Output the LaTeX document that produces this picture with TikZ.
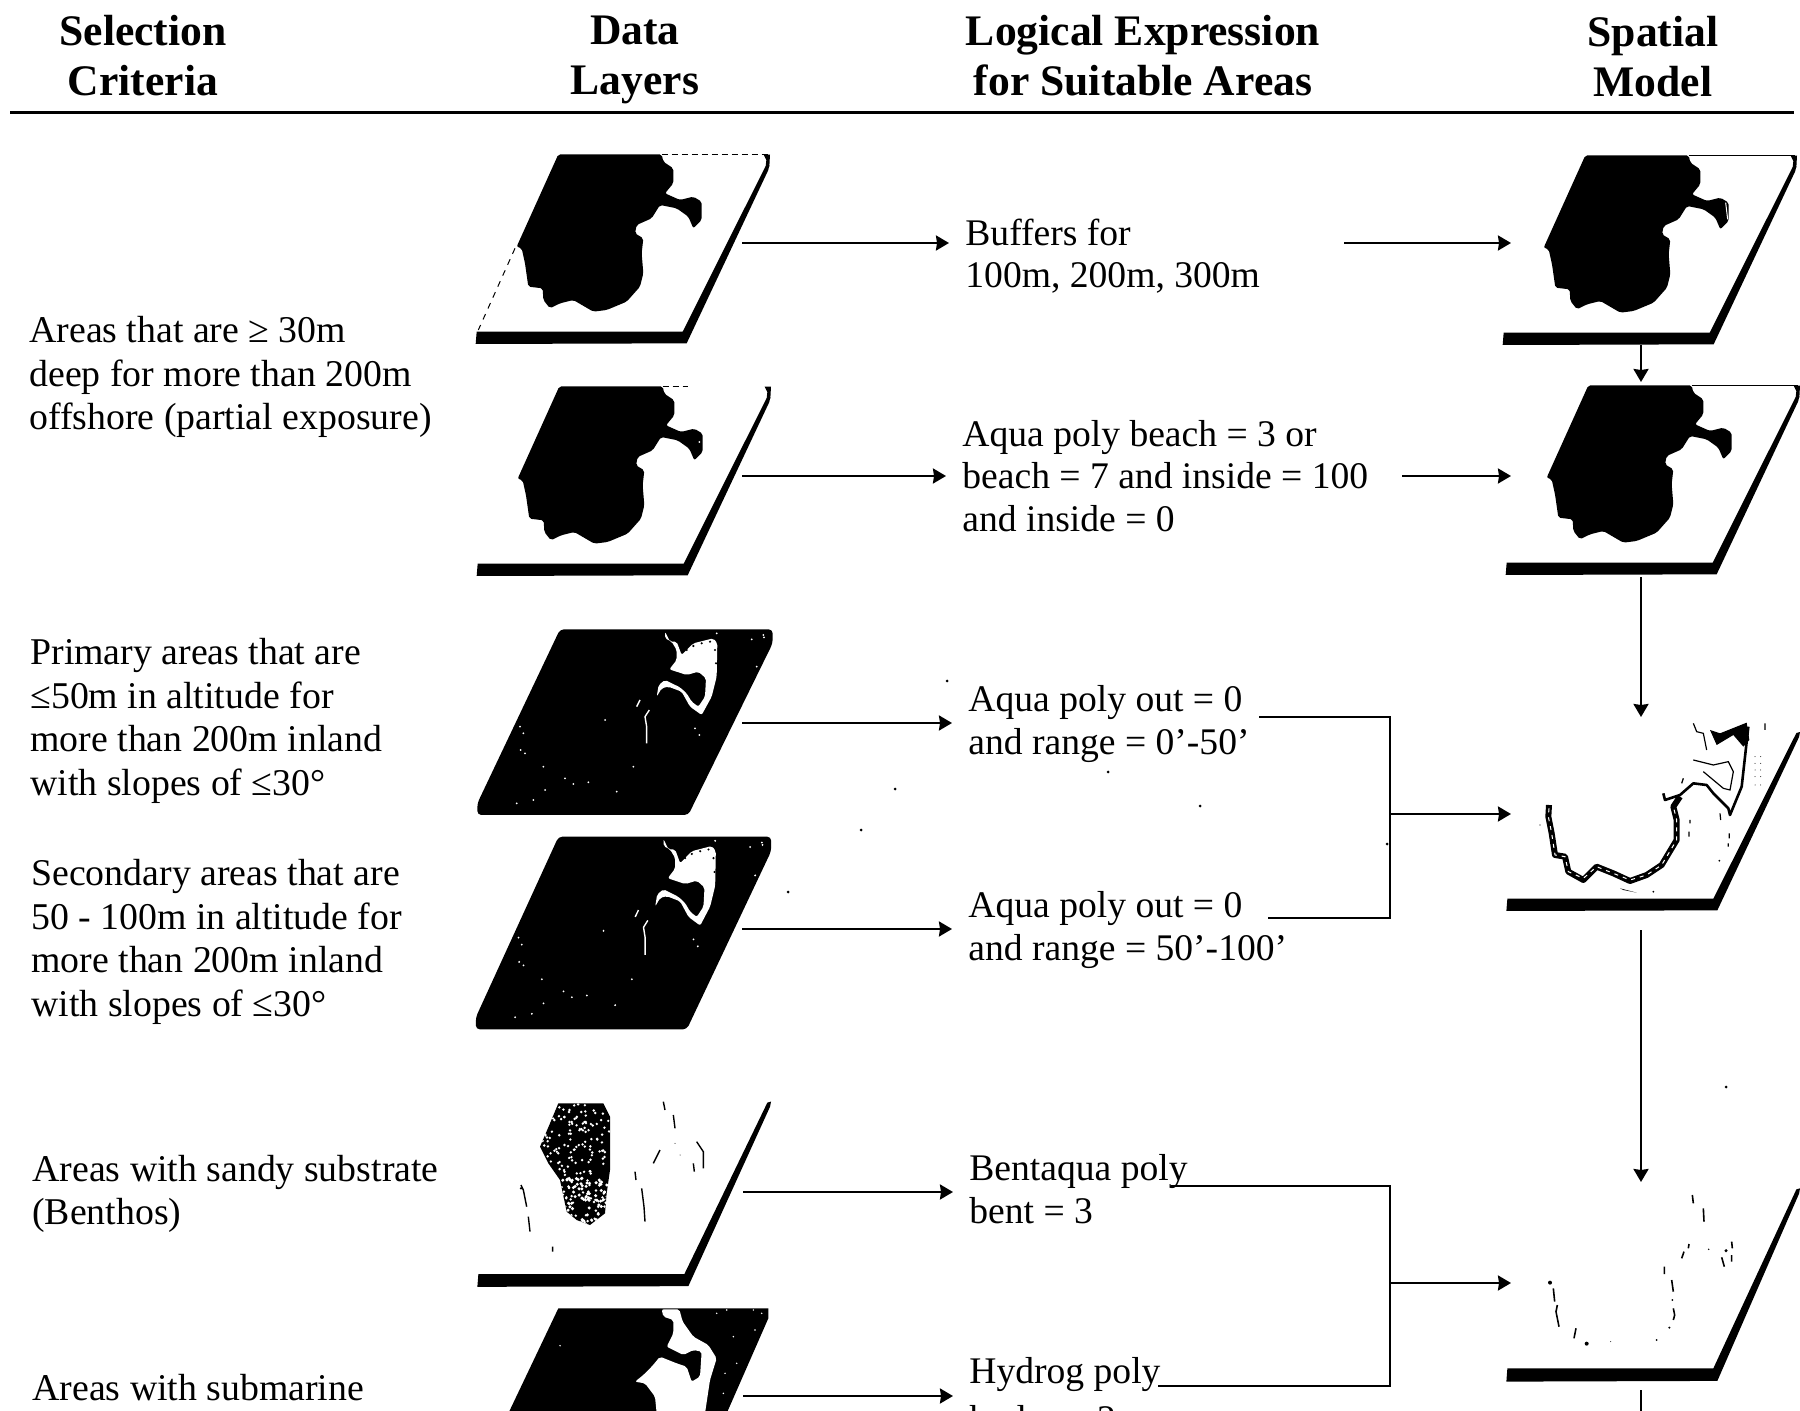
\documentclass[tikz,border=0pt]{standalone}
\usepackage{fontspec}
\setmainfont{Liberation Serif}
\usetikzlibrary{arrows.meta, calc, positioning}
\tikzset{
  % column heads
  heading/.style={align=center, font=\fontsize{21.8}{25}\selectfont\bfseries},
  % text columns
  criterion/.style={anchor=west, align=left, inner sep=0pt, font=\fontsize{18.9}{21.8}\selectfont},
  expr/.style={anchor=west, align=left, inner xsep=8pt, inner ysep=0pt, font=\fontsize{18.8}{21.3}\selectfont},
  % invisible holders for the map layers
  layerbox/.style={minimum width=132pt, minimum height=4pt, inner sep=0pt, outer sep=0pt},
  modelbox/.style={minimum width=130pt, inner sep=0pt, outer sep=0pt},
  % connectors
  flow/.style={-{Stealth[length=6.5pt, width=7.5pt, inset=0.5pt]}, line width=1.15pt},
  wire/.style={line width=1.15pt},
  % map sheets, coordinates of one zoomed sheet
  sheet/.style={scale=1/3},
  speck/.style={white},
}
% sheet edge: bottom strip and right side
\newcommand{\slabframe}{
  \fill (50,575) -- (668,575) -- (917,78) -- (928,75) -- (925,90) -- (680,610) -- (47,612) -- cycle;
}
% small hook at the top right corner
\newcommand{\slabhook}{
  \fill (911,44) -- (930,44) -- (928,80) -- (917,80) -- (919,60) -- cycle;
}
\newcommand{\landmass}{
  \fill[rounded corners=1pt] (295,43) -- (605,43) -- (610,65) -- (640,85) -- (640,130) -- (615,160)
    -- (660,180) -- (700,170) -- (725,185) -- (725,240) -- (700,265) -- (685,230) -- (650,205)
    -- (600,195) -- (575,235) -- (530,255) -- (525,280) -- (550,295) -- (545,340) -- (550,400)
    -- (540,440) -- (500,485) -- (440,510) -- (400,515) -- (340,480) -- (300,490) -- (270,505)
    -- (250,480) -- (248,445) -- (205,440) -- (195,370) -- (185,325) -- (170,320) -- cycle;
}
% dark sheet with the white coast
\newcommand{\darkmass}{
  \fill[rounded corners=2pt] (300,58) -- (938,58) -- (938,100) -- (685,615) -- (52,615) -- (52,580) -- cycle;
  \fill[white, rounded corners=1pt] (615,65) -- (630,95) -- (650,95) -- (665,135) -- (700,100) -- (760,85)
    -- (772,100) -- (770,200) -- (755,260) -- (725,315) -- (690,290) -- (665,245) -- (625,230)
    -- (605,235) -- (590,260) -- (596,225) -- (615,210) -- (660,232) -- (680,250) -- (695,275)
    -- (715,290) -- (735,260) -- (738,205) -- (715,185) -- (680,195) -- (628,178) -- (650,150)
    -- (650,120) -- (635,95) -- (615,85) -- cycle;
  \draw[white, line width=0.7pt] (568,300) -- (555,320) -- (560,350) -- (560,400);
  \draw[white, line width=0.7pt] (540,270) -- (530,290);
  \foreach \px/\py in {180/350, 190/370, 182/420, 195/430, 250/470, 255/540, 315/505, 340/522,
    385/517, 470/545, 520/470, 435/330, 170/580, 220/570, 705/355, 718/375, 890/170, 875/88,
    910/75, 912/82, 770/70}
    \fill[speck] (\px,\py) circle (3);
  \foreach \px/\py in {680/120, 700/108, 725/100, 750/95, 765/120, 768/160}
    \fill (\px,\py) circle (3.5);
}
\begin{document}
\begin{tikzpicture}[x=0.5pt, y=-0.5pt]
  \useasboundingbox (0,0) rectangle (1800,1411);
  \clip (0,0) rectangle (1800,1411);

  % heads
  \node[heading] (headcrit) at (143,56) {Selection\\Criteria};
  \node[heading] (headdata) at (635,60) {Data\\Layers};
  \node[heading] (headexpr) at (1143,56) {Logical Expression\\for Suitable Areas};
  \node[heading] (headmodel) at (1653,57) {Spatial\\Model};
  \coordinate (ruleleft) at (10,112.5);
  \coordinate (ruleright) at (1794,112.5);
  \draw[line width=1.5pt] (ruleleft) -- (ruleright);

  % criteria
  \node[criterion] (crit1) at (29,377) {Areas that are ≥ 30m\\deep for more than 200m\\offshore (partial exposure)};
  \node[criterion] (crit2) at (30,721) {Primary areas that are\\≤50m in altitude for\\more than 200m inland\\with slopes of ≤30°};
  \node[criterion] (crit3) at (31,942) {Secondary areas that are\\50 - 100m in altitude for\\more than 200m inland\\with slopes of ≤30°};
  \node[criterion] (crit4) at (32,1194) {Areas with sandy substrate\\(Benthos)};
  \node[criterion] (crit5) at (32,1388) {Areas with submarine};

  % data layers
  \begin{scope}[shift={(460,140)}, sheet]
    \slabframe \slabhook \landmass
    \draw[densely dashed, line width=0.5pt] (605,43) -- (925,43);
    \draw[dashed, line width=0.5pt] (165,325) -- (55,570);
  \end{scope}
  \begin{scope}[shift={(461,372)}, sheet]
    \slabframe \slabhook \landmass
    \draw[densely dashed, line width=0.5pt] (605,43) -- (680,43);
    \fill[white] (715,210) circle (3);
  \end{scope}
  \begin{scope}[shift={(460,610)}, sheet]
    \darkmass
  \end{scope}
  \begin{scope}[shift={(458.5,816.6)}, xscale=1/3, yscale=1.038/3]
    \darkmass
  \end{scope}
  \begin{scope}[shift={(461.7,1075.7)}, xscale=1/3, yscale=1.035/3]
    \slabframe
  \end{scope}
  \begin{scope}[shift={(460,1080)}, sheet]
    % stippled substrate patch
    \begin{scope}
      \clip (295,70) -- (430,70) -- (450,110) -- (450,270) -- (440,340) -- (435,400) -- (390,435)
        -- (350,420) -- (320,395) -- (300,300) -- (265,250) -- (240,200) -- (270,130) -- cycle;
      \fill (230,60) rectangle (460,440);
      \pgfmathsetseed{7}
      \foreach \n in {1,...,230} {
        \pgfmathsetmacro\px{240+rnd*210}
        \pgfmathsetmacro\py{70+rnd*370}
        \fill[white] (\px,\py) circle (4);
      }
      \foreach \n in {1,...,80} {
        \pgfmathsetmacro\px{300+rnd*150}
        \pgfmathsetmacro\py{290+rnd*150}
        \fill[white] (\px,\py) circle (5);
      }
    \end{scope}
    \draw[line width=0.7pt] (610,65) -- (615,90) (640,105) -- (645,145) (600,210) -- (580,250)
      (525,275) -- (528,300) (545,325) -- (552,380) -- (555,425) (710,185) -- (730,215) -- (730,265)
      (700,250) -- (703,275) (183,315) -- (190,330) -- (200,380) (205,410) -- (210,455) (278,500) -- (278,515);
    \fill (645,190) circle (1.5) (660,225) circle (1.5) (183,325) circle (4);
  \end{scope}
  \begin{scope}[shift={(460,1080)}, sheet]
    \fill (295,685) -- (925,685) -- (925,715) -- (800,1000) -- (145,1000) -- cycle;
    \fill[white, rounded corners=1pt] (605,688) -- (658,688) -- (668,725) -- (700,770) -- (745,795) -- (770,835)
      -- (750,900) -- (735,1000) -- (590,1000) -- (585,950) -- (555,910) -- (525,905) -- (550,885)
      -- (575,860) -- (600,830) -- (650,850) -- (680,860) -- (695,905) -- (720,890) -- (725,815)
      -- (700,810) -- (670,825) -- (620,800) -- (640,760) -- (640,720) -- (610,710) -- cycle;
    \foreach \px/\py in {770/700, 800/690, 880/690, 905/700, 820/770, 885/750, 830/850, 795/880, 790/940, 300/797}
      \fill[speck] (\px,\py) circle (2.5);
  \end{scope}

  % spatial model layers
  \begin{scope}[shift={(1487,141)}, sheet]
    \slabframe \slabhook \landmass
    \draw[line width=0.6pt] (605,43) -- (925,43);
    \draw[white, line width=0.5pt] (716,185) -- (722,235) (180,340) -- (195,435);
  \end{scope}
  \begin{scope}[shift={(1490,371)}, sheet]
    \slabframe \slabhook \landmass
    \draw[line width=0.6pt] (605,43) -- (925,43);
  \end{scope}
  \begin{scope}[shift={(1490.7,707)}, sheet]
    \slabframe
  \end{scope}
  \begin{scope}[shift={(1480,700)}, sheet]
    % coast outline
    \draw[line width=3pt, line join=round] (207,315) -- (205,350) -- (215,400) -- (225,465) -- (255,470) -- (265,515)
      -- (310,540) -- (350,500) -- (400,520) -- (450,543) -- (500,525) -- (545,495) -- (590,420)
      -- (590,360) -- (580,320) -- (600,290);
    \draw[white, line width=0.5pt, dash pattern=on 2pt off 2.5pt] (207,325) -- (205,350) -- (215,400) -- (225,465)
      -- (255,470) -- (265,515) -- (310,535) -- (350,500) -- (400,520) -- (450,540) -- (500,525)
      -- (545,495) -- (590,420) -- (590,360) -- (580,320);
    \draw[line width=1.3pt, line join=round] (550,280) -- (555,300) -- (600,285) -- (640,250) -- (680,255) -- (700,280)
      -- (745,325) -- (750,345) -- (785,260) -- (795,170) -- (805,80);
    \fill (690,90) -- (720,100) -- (800,68) -- (808,120) -- (790,140) -- (760,105) -- (710,135) -- cycle;
    \draw[line width=0.6pt] (640,70) -- (650,95) -- (670,100) -- (680,150) (640,180) -- (700,195) -- (745,185) -- (760,215) -- (750,270)
      -- (730,265) -- (670,215) (610,235) -- (605,250) (720,340) -- (722,360) (630,360) -- (630,370)
      (627,395) -- (627,410) (748,400) -- (748,415) (745,430) -- (745,440) (855,70) -- (855,90);
    \fill (718,482) circle (3) (520,575) circle (3) (180,375) circle (2) (430,570) -- (470,578) -- (420,565) -- cycle;
    \foreach \py in {170,190,210,230,255}
      \fill (825,\py) circle (1.5) (842,\py) circle (1.5);
  \end{scope}
  \begin{scope}[shift={(1490.7,1161.3)}, xscale=1/3, yscale=1.08/3]
    \slabframe
  \end{scope}
  \begin{scope}[shift={(1480,1170)}, sheet]
    \draw[line width=0.8pt] (637,75) -- (640,100) (670,115) -- (672,155) (627,222) -- (625,235) (612,245) -- (605,265)
      (553,290) -- (553,312) (575,330) -- (580,365) (580,415) -- (584,435) -- (580,450)
      (755,215) -- (757,235) (755,255) -- (755,275) (725,262) -- (733,290)
      (220,355) -- (224,395) (232,405) -- (228,425) -- (237,470) (288,475) -- (282,505);
    \fill (210,338) circle (6) (738,242) circle (5) (568,473) circle (3.5) (320,521) circle (6)
      (577,390) circle (3) (530,510) circle (3) (686,238) circle (2.5) (392,515) circle (1.5);
  \end{scope}

  % stray specks of the scan
  \foreach \px/\py in {947/681, 1108/772, 1200/806, 895/789, 861/830, 788/892, 1726/1087, 1387/844}
    \fill (\px,\py) circle (1.5);

  % holders
  \node[layerbox] (dl1) at (610,243) {};
  \node[layerbox] (dl2) at (610,476) {};
  \node[layerbox] (dl3) at (610,723) {};
  \node[layerbox] (dl4) at (610,929) {};
  \node[layerbox] (dl5) at (611,1192) {};
  \node[layerbox] (dl6) at (611,1396) {};
  \node[modelbox, minimum height=95.5pt] (sm1) at (1641,249.5) {};
  \node[modelbox, minimum height=97.5pt] (sm2) at (1641,479.5) {};
  \node[modelbox, minimum height=106.5pt] (sm3) at (1641,823.5) {};
  \node[modelbox, minimum height=104pt] (sm4) at (1641,1286) {};

  % logical expressions
  \node[expr] (ex1) at (949,256) {Buffers for\\100m, 200m, 300m};
  \node[expr] (ex2) at (946,476) {Aqua poly beach = 3 or\\beach = 7 and inside = 100\\and inside = 0};
  \node[expr] (ex3) at (952,724) {Aqua poly out = 0\\and range = 0’-50’};
  \node[expr] (ex4) at (952,930) {Aqua poly out = 0\\and range = 50’-100’};
  \node[expr] (ex5) at (953,1189) {Bentaqua poly\\bent = 3};
  \node[expr] (ex6) at (953,1398.5) {Hydrog poly\\[2.5pt]hydro = 2};

  % free ends
  \coordinate (from1) at (1344,243);
  \coordinate (from2) at (1402,476);
  \coordinate (aquaA) at (1259,717);
  \coordinate (aquaB) at (1268,918);
  \coordinate (joinA) at (1390,814);
  \coordinate (bentq) at (1171,1186);
  \coordinate (hydrg) at (1158,1386);
  \coordinate (joinB) at (1390,1283);
  \coordinate (offpage) at (1641,1412);

  \draw[flow] (dl1.east) -- (dl1.east -| ex1.west);
  \draw[flow] (dl2.east) -- (dl2.east -| ex2.west);
  \draw[flow] (dl3.east) -- (dl3.east -| ex3.west);
  \draw[flow] (dl4.east) -- (dl4.east -| ex4.west);
  \draw[flow] (dl5.east) -- (dl5.east -| ex5.west);
  \draw[flow] (dl6.east) -- (dl6.east -| ex6.west);
  \draw[flow] (from1) -- (from1 -| sm1.west);
  \draw[flow] (from2) -- (from2 -| sm2.west);
  \draw[flow] (sm1.south) -- (sm2.north);
  \draw[flow] (sm2.south) -- (sm3.north);
  \draw[flow] (sm3.south) -- (sm4.north);
  \draw[wire] (sm4.south) -- (offpage);
  \draw[wire] (aquaA) -| (joinA) |- (aquaB);
  \draw[flow] (joinA) -- (joinA -| sm3.west);
  \draw[wire] (bentq) -| (joinB) |- (hydrg);
  \draw[flow] (joinB) -- (joinB -| sm4.west);
\end{tikzpicture}
\end{document}
